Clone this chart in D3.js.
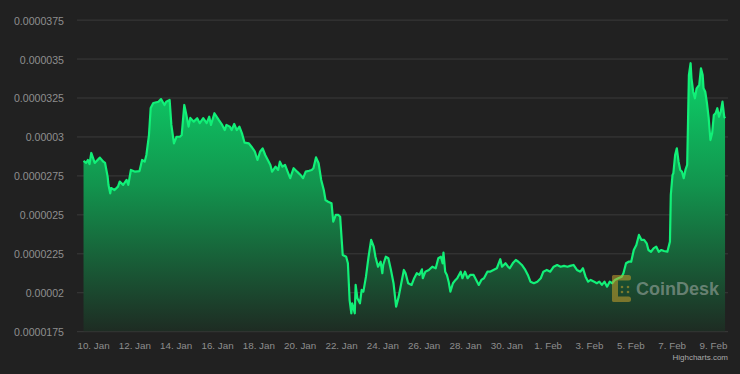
<!DOCTYPE html>
<html><head><meta charset="utf-8">
<script src="https://cdn.jsdelivr.net/npm/d3@7"></script>
<style>html,body{margin:0;padding:0;background:#212121;} svg{display:block}</style>
</head><body>
<svg id="chart" width="740" height="374"></svg>
<script>
// ---- data ----
const baseDate = "2023-01-10T00:00:00Z";
const hoursFromBase = [
-11,-8,-6,-4,-2,2,8,12,14,17,18,20,21,25,29,31,35,39,41,44,49,54,57,60,62,65,67,70,76,79,83,85,89,91,94,97,101,103,106,
108,111,113,117,121,124,128,132,135,137,141,146,150,153,155,159,161,164,167,170,173,176,181,184,188,191,194,197,200,203,206,208,212,215,217,220,223,226,229,233,237,241,244,247,251,254,256,259,
262,265,268,270,273,277,279,282,285,287,290,294,296,298,300,301,304,305,307,310,312,314,317,320,323,326,328,331,334,336,337,340,343,346,349,352,355,358,361,363,366,370,373,376,379,382,
383,386,390,394,398,401,404,406,407,409,411,413,415,418,421,423,427,429,432,435,438,442,445,448,451,454,458,461,465,469,473,475,479,482,484,488,491,494,498,502,
505,508,512,516,520,523,527,531,535,539,543,547,551,554,558,562,566,569,572,575,578,582,585,588,591,594,597,600,603,606,610,614,616,619,622,625,628,
631,634,637,640,643,645,648,651,654,657,660,663,667,670,671,673,674,676,678,680,682,684,686,688,690,691,692,694,695,697,699,701,704,706,708,709,711,713,715,717,719,721,723,725,727,729,731,733,734
];
// prices in units of 0.000001
const pricesMicro = [
28.43,28.30,28.49,28.23,28.94,28.30,28.64,28.38,28.30,27.42,26.88,26.35,26.69,26.56,26.78,27.10,26.89,27.21,26.89,27.85,27.74,27.78,28.49,28.38,28.81,30.09,31.83,32.15,32.23,32.40,32.02,32.23,32.34,30.74,29.56,29.98,29.98,30.09,32.02,
31.51,30.63,31.19,30.95,31.17,30.85,31.17,30.85,31.27,30.74,31.49,31.06,30.74,30.41,30.74,30.63,30.41,30.80,30.41,30.63,30.20,29.60,29.56,29.34,29.02,28.49,29.02,29.24,28.81,28.49,28.17,27.74,28.06,27.85,28.38,28.06,28.17,27.74,27.32,27.96,27.74,27.53,27.32,27.74,27.80,27.85,27.96,28.66,
28.28,27.21,26.56,25.92,25.81,25.71,24.53,24.96,24.96,24.85,22.39,22.28,21.86,19.50,18.65,19.29,18.65,20.47,19.61,19.29,20.15,20.04,21.00,22.28,23.36,22.93,22.28,21.64,21.96,21.22,21.75,22.28,22.18,21.43,20.58,19.07,19.72,20.58,21.43,21.22,20.58,20.47,20.90,21.22,21.11,21.47,
20.90,21.32,21.43,21.64,21.54,22.18,22.28,21.86,22.54,21.32,21.11,20.68,20.04,20.58,20.79,20.90,21.32,20.90,21.32,20.90,21.11,21.11,20.79,20.47,20.79,20.90,21.32,21.32,21.43,21.54,22.12,21.64,21.86,21.64,21.54,21.90,22.07,21.96,21.75,21.43,
21.11,20.68,20.58,20.68,20.90,21.32,21.43,21.32,21.64,21.75,21.64,21.69,21.64,21.69,21.75,21.43,21.32,21.54,21.00,20.68,20.79,20.68,20.58,20.68,20.47,20.68,20.36,20.68,20.58,20.79,20.90,21.00,21.22,21.86,21.96,21.96,22.71,
23.03,23.68,23.36,23.36,23.14,22.71,22.60,22.82,22.93,22.60,22.71,22.65,22.60,23.25,26.24,27.53,27.64,28.81,29.24,28.38,27.85,27.74,27.32,27.85,28.17,30.95,33.94,34.70,33.73,32.87,32.45,33.09,33.30,34.37,33.94,33.09,32.87,32.13,31.17,29.77,30.20,31.38,31.49,31.81,31.27,31.59,32.23,31.27,31.17
];
const yTickValues = [0.0000175,0.00002,0.0000225,0.000025,0.0000275,0.00003,0.0000325,0.000035,0.0000375];
const yTickLabels = ["0.0000175","0.00002","0.0000225","0.000025","0.0000275","0.00003","0.0000325","0.000035","0.0000375"];
const xTickDates = ["2023-01-10","2023-01-12","2023-01-14","2023-01-16","2023-01-18","2023-01-20","2023-01-22","2023-01-24","2023-01-26","2023-01-28","2023-01-30","2023-02-01","2023-02-03","2023-02-05","2023-02-07","2023-02-09"];
const xTickLabels = ["10. Jan","12. Jan","14. Jan","16. Jan","18. Jan","20. Jan","22. Jan","24. Jan","26. Jan","28. Jan","30. Jan","1. Feb","3. Feb","5. Feb","7. Feb","9. Feb"];

// ---- build ----
const base = new Date(baseDate);
const data = hoursFromBase.map((h, i) => ({ t: d3.utcHour.offset(base, h), v: pricesMicro[i] * 1e-6 }));
const tickDates = xTickDates.map(s => new Date(s + "T00:00:00Z"));

const svg = d3.select("#chart");
const W = 740, H = 374;
const plotLeft = 77, plotRight = 728, plotTop = 19.6, plotBottom = 331.2;

svg.append("rect").attr("width", W).attr("height", H).attr("fill", "#212121");

const x = d3.scaleUtc().domain([tickDates[0], tickDates[tickDates.length - 1]]).range([93, 713]);
const y = d3.scaleLinear().domain([yTickValues[0], yTickValues[yTickValues.length - 1]]).range([plotBottom, plotTop]);

// gradient
const defs = svg.append("defs");
const grad = defs.append("linearGradient").attr("id", "areaGrad")
  .attr("gradientUnits", "userSpaceOnUse").attr("x1", 0).attr("x2", 0)
  .attr("y1", y(d3.max(data, d => d.v))).attr("y2", plotBottom);
grad.append("stop").attr("offset", 0).attr("stop-color", "#0cd46a");
grad.append("stop").attr("offset", 0.45).attr("stop-color", "#12954e");
grad.append("stop").attr("offset", 1).attr("stop-color", "#1e2c23");

// y axis + grid
const yAxis = d3.axisLeft(y).tickValues(yTickValues)
  .tickFormat((d, i) => yTickLabels[i])
  .tickSizeInner(-(plotRight - plotLeft)).tickSizeOuter(0).tickPadding(13);
const gy = svg.append("g").attr("transform", `translate(${plotLeft},0)`).call(yAxis);
gy.select(".domain").remove();
gy.selectAll(".tick line").attr("stroke", "#3b3b3b").attr("stroke-width", 1);
gy.selectAll(".tick text").attr("fill", "#8e8e8e").attr("font-size", "10.6px")
  .attr("font-family", "'Liberation Sans', Arial, sans-serif").attr("dy", "0.42em");

// area + line
const area = d3.area().x(d => x(d.t)).y0(plotBottom).y1(d => y(d.v)).curve(d3.curveLinear);
const line = d3.line().x(d => x(d.t)).y(d => y(d.v)).curve(d3.curveLinear);
svg.append("path").datum(data).attr("d", area).attr("fill", "url(#areaGrad)");
svg.append("path").datum(data).attr("d", line).attr("fill", "none")
  .attr("stroke", "#12f078").attr("stroke-width", 2.2).attr("stroke-linejoin", "round");

// x axis
const xAxis = d3.axisBottom(x).tickValues(tickDates)
  .tickFormat((d, i) => xTickLabels[i]).tickSize(0).tickPadding(11);
const gx = svg.append("g").attr("transform", `translate(0,${plotBottom})`).call(xAxis);
gx.select(".domain").remove();
gx.selectAll(".tick text").attr("fill", "#8e8e8e").attr("font-size", "9.8px")
  .attr("font-family", "'Liberation Sans', Arial, sans-serif");

// watermark logo
const logo = svg.append("g").attr("opacity", 0.55);
const gold = "#c9a12c";
logo.append("rect").attr("x", 612).attr("y", 275).attr("width", 6).attr("height", 27).attr("rx", 2).attr("fill", gold);
logo.append("rect").attr("x", 612).attr("y", 275).attr("width", 19).attr("height", 5.5).attr("rx", 2.5).attr("fill", gold);
logo.append("rect").attr("x", 612).attr("y", 296.5).attr("width", 19).attr("height", 5.5).attr("rx", 2.5).attr("fill", gold);
[[622, 287], [628, 287], [622, 292], [628, 292]].forEach(([cx, cy]) =>
  logo.append("circle").attr("cx", cx).attr("cy", cy).attr("r", 1.3).attr("fill", gold));
svg.append("text").attr("x", 636).attr("y", 295).text("CoinDesk")
  .attr("font-family", "'Liberation Sans', Arial, sans-serif").attr("font-weight", "bold")
  .attr("font-size", "18px").attr("fill", "#c8c8c8").attr("fill-opacity", 0.45);

// credits
svg.append("text").attr("x", 728).attr("y", 360).attr("text-anchor", "end").text("Highcharts.com")
  .attr("font-family", "'Liberation Sans', Arial, sans-serif").attr("font-size", "8px").attr("fill", "#aaa");
</script>
</body></html>
